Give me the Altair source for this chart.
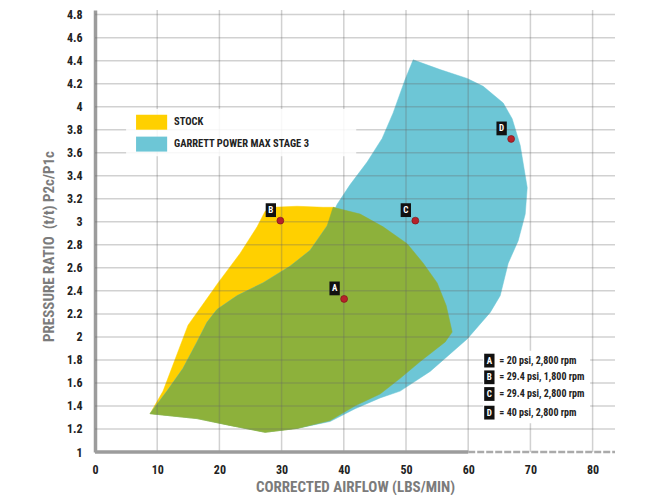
import altair as alt
import pandas as pd

FONT = "Liberation Sans Narrow, Arial Narrow, Roboto Condensed, Liberation Sans, Arial, sans-serif"

# ---- data -------------------------------------------------------------
stock_x = [8.85, 10.94, 14.96, 17.21, 19.78, 23.32, 26.06, 27.35, 28.63, 32.49, 36.67, 38.28,
           42.63, 46.32, 50.18, 52.76, 55.01, 56.46, 57.42, 56.30, 52.28, 49.06, 45.84, 41.82,
           37.80, 32.49, 27.35, 21.71, 16.41]
stock_y = [1.333, 1.529, 2.102, 2.272, 2.469, 2.725, 2.956, 3.092, 3.126, 3.135, 3.126, 3.126,
           3.067, 2.956, 2.810, 2.640, 2.469, 2.272, 2.042, 1.956, 1.786, 1.640, 1.504, 1.401,
           1.273, 1.205, 1.171, 1.231, 1.290]

garrett_x = [8.85, 16.41, 21.71, 27.35, 32.49, 37.80, 41.82, 45.84, 49.06, 53.88, 59.84, 63.54,
             65.14, 66.43, 68.04, 69.17, 69.49, 68.36, 67.07, 65.63, 62.41, 59.84, 55.49, 51.15,
             49.86, 47.93, 46.16, 43.75, 41.02, 38.93, 37.32, 34.58, 31.37, 27.02, 22.84, 19.62,
             18.02, 16.41, 14.15, 11.58]
garrett_y = [1.333, 1.290, 1.231, 1.171, 1.205, 1.265, 1.376, 1.470, 1.529, 1.700, 1.982, 2.213,
             2.358, 2.640, 2.836, 3.067, 3.297, 3.664, 3.895, 4.032, 4.177, 4.245, 4.322, 4.407,
             4.237, 3.946, 3.724, 3.519, 3.323, 3.152, 2.964, 2.751, 2.614, 2.469, 2.358, 2.238,
             2.127, 1.956, 1.726, 1.529]

overlap_x = [8.85, 11.58, 14.15, 16.41, 18.02, 19.62, 22.84, 27.02, 31.37, 34.58, 37.32, 38.28,
             42.63, 46.32, 50.18, 52.76, 55.01, 56.46, 57.42, 56.30, 52.28, 49.06, 45.84, 41.82,
             37.80, 32.49, 27.35, 21.71, 16.41]
overlap_y = [1.333, 1.529, 1.726, 1.956, 2.127, 2.238, 2.358, 2.469, 2.614, 2.751, 2.964, 3.126,
             3.067, 2.956, 2.810, 2.640, 2.469, 2.272, 2.042, 1.956, 1.786, 1.640, 1.504, 1.401,
             1.273, 1.205, 1.171, 1.231, 1.290]

point_labels = ["A", "B", "C", "D"]
point_x = [40.05, 29.8, 51.5, 66.9]
point_y = [2.33, 3.01, 3.01, 3.72]

legend_labels = ["STOCK", "GARRETT POWER MAX STAGE 3"]
legend_colors = ["#FFD000", "#6DC6D6"]
legend_y_top = [3.93, 3.74]
legend_y_bot = [3.80, 3.61]
legend_y_text = [3.865, 3.675]

key_labels = ["A", "B", "C", "D"]
key_texts = ["= 20 psi, 2,800 rpm", "= 29.4 psi, 1,800 rpm",
             "= 29.4 psi, 2,800 rpm", "= 40 psi, 2,800 rpm"]
key_y = [1.794, 1.649, 1.504, 1.342]

x_ticks = [0, 10, 20, 30, 40, 50, 60, 70, 80]
y_ticks = [1, 1.2, 1.4, 1.6, 1.8, 2, 2.2, 2.4, 2.6, 2.8, 3, 3.2, 3.4, 3.6, 3.8, 4,
           4.2, 4.4, 4.6, 4.8]

X_DOMAIN = [0, 83.6]
Y_DOMAIN = [1, 4.84]

YELLOW = "#FFD000"
BLUE = "#6DC6D6"
GREEN = "#8DB13B"

# ---- scales / axes ----------------------------------------------------
xs = alt.Scale(domain=X_DOMAIN, nice=False, zero=False)
ys = alt.Scale(domain=Y_DOMAIN, nice=False, zero=False)

x_axis = alt.Axis(values=x_ticks, grid=False, ticks=False, domain=False,
                  labelFont=FONT, labelFontWeight="bold", labelFontSize=12,
                  labelColor="#222222", labelPadding=12, labelFlush=False,
                  labelOverlap=False,
                  title="CORRECTED AIRFLOW (LBS/MIN)", titleFont=FONT,
                  titleFontSize=15, titleFontWeight="bold", titleColor="#7b7b7b",
                  titleY=34, titleBaseline="middle")
y_axis = alt.Axis(values=y_ticks, grid=False, ticks=False, domain=True,
                  domainColor="#9c9c9c", domainWidth=3.5, format="~g",
                  labelFont=FONT, labelFontWeight="bold", labelFontSize=12,
                  labelColor="#222222", labelPadding=13, labelOverlap=False,
                  labelFlush=False,
                  title="PRESSURE RATIO\u00a0 (t/t) P2c/P1c", titleFont=FONT,
                  titleFontSize=15, titleFontWeight="bold", titleColor="#7b7b7b",
                  titleAngle=270, titleX=-47, titleY=236, titleAlign="center",
                  titleBaseline="middle")


def X(field):
    return alt.X(field, type="quantitative", scale=xs, axis=x_axis)


def Y(field):
    return alt.Y(field, type="quantitative", scale=ys, axis=y_axis)


def poly(xv, yv, color):
    df = pd.DataFrame({"x": xv, "y": yv, "i": list(range(len(xv)))})
    return alt.Chart(df).mark_line(
        interpolate="linear-closed", filled=True, fill=color, stroke=color,
        strokeWidth=0.5
    ).encode(x=X("x"), y=Y("y"), order=alt.Order("i:Q"))


stock_layer = poly(stock_x, stock_y, YELLOW)
garrett_layer = poly(garrett_x, garrett_y, BLUE)
overlap_layer = poly(overlap_x, overlap_y, GREEN)

# grid
vgrid = alt.Chart(pd.DataFrame({"x": x_ticks[1:]})).mark_rule(
    color="#666666", opacity=0.3, strokeWidth=1.5
).encode(x=X("x"))
hgrid = alt.Chart(pd.DataFrame({"y": y_ticks[1:]})).mark_rule(
    color="#666666", opacity=0.3, strokeWidth=1.5
).encode(y=Y("y"))

# x axis line: solid then dashed
xline_solid = alt.Chart(pd.DataFrame({"x": [0], "x2": [60], "y": [1]})).mark_rule(
    color="#9c9c9c", strokeWidth=3.5
).encode(x=X("x"), x2="x2", y=Y("y"))
xline_dash = alt.Chart(pd.DataFrame({"x": [60], "x2": [X_DOMAIN[1]], "y": [1]})).mark_rule(
    color="#aaaaaa", strokeWidth=2.5, strokeDash=[7, 2]
).encode(x=X("x"), x2="x2", y=Y("y"))

# legend
legend_bg = alt.Chart(pd.DataFrame({"x": [5.0], "x2": [42.0], "y": [3.98], "y2": [3.57]})).mark_rect(
    color="white", opacity=0.85
).encode(x=X("x"), x2="x2", y=Y("y"), y2="y2")
legend_df = pd.DataFrame({"label": legend_labels, "color": legend_colors,
                          "yt": legend_y_top, "yb": legend_y_bot, "ytext": legend_y_text,
                          "x": [6.6] * 2, "x2": [11.6] * 2, "xt": [12.7] * 2})
legend_sw = alt.Chart(legend_df).mark_rect().encode(
    x=X("x"), x2="x2", y=Y("yt"), y2="yb",
    color=alt.Color("color:N", scale=None, legend=None))
legend_tx = alt.Chart(legend_df).mark_text(
    align="left", baseline="middle", font=FONT, fontSize=10.5, fontWeight="bold",
    color="#222222"
).encode(x=X("xt"), y=Y("ytext"), text="label:N")

# key box
key_bg = alt.Chart(pd.DataFrame({"x": [62.4], "x2": [79.6], "y": [1.88], "y2": [1.25]})).mark_rect(
    color="white"
).encode(x=X("x"), x2="x2", y=Y("y"), y2="y2")
key_df = pd.DataFrame({"lab": key_labels, "txt": key_texts, "y": key_y,
                       "xb": [63.4] * 4, "xt": [65.0] * 4})
BOX = "M-0.75,-1H0.75V1H-0.75Z"
key_box = alt.Chart(key_df).mark_point(
    shape=BOX, size=190, filled=True, color="#111111", opacity=1
).encode(x=X("xb"), y=Y("y"))
key_let = alt.Chart(key_df).mark_text(
    font=FONT, fontSize=9, fontWeight="bold", color="white", baseline="middle"
).encode(x=X("xb"), y=Y("y"), text="lab:N")
key_txt = alt.Chart(key_df).mark_text(
    align="left", baseline="middle", font=FONT, fontSize=10, fontWeight="bold",
    color="#222222"
).encode(x=X("xt"), y=Y("y"), text="txt:N")

# operating points
pts_df = pd.DataFrame({"lab": point_labels, "x": point_x, "y": point_y})
pts = alt.Chart(pts_df).mark_circle(
    size=48, color="#B5222A", opacity=1, stroke="#7a1016", strokeWidth=0.6
).encode(x=X("x"), y=Y("y"))
pt_box = alt.Chart(pts_df).mark_point(
    shape=BOX, size=190, filled=True, color="#111111", opacity=1,
    xOffset=-9.5, yOffset=-10.5
).encode(x=X("x"), y=Y("y"))
pt_let = alt.Chart(pts_df).mark_text(
    font=FONT, fontSize=9, fontWeight="bold", color="white", baseline="middle",
    dx=-9.5, dy=-10.5
).encode(x=X("x"), y=Y("y"), text="lab:N")

chart = alt.layer(
    stock_layer, garrett_layer, overlap_layer, vgrid, hgrid,
    xline_solid, xline_dash, legend_bg, legend_sw, legend_tx,
    key_bg, key_box, key_let, key_txt, pts, pt_box, pt_let
).properties(
    width=520, height=442,
    padding={"left": 87, "top": 2, "right": 30, "bottom": 45},
    autosize=alt.AutoSizeParams(type="none"),
    background="white"
).configure_view(stroke=None)

chart.save("out.html", embed_options={"renderer": "svg", "actions": False})
